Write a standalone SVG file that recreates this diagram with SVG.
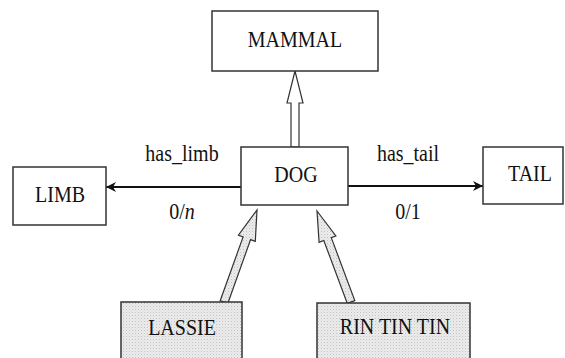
<svg xmlns="http://www.w3.org/2000/svg" width="565" height="358" viewBox="0 0 565 358">
<defs>
<pattern id="stip" width="3" height="3" patternUnits="userSpaceOnUse">
<rect width="3" height="3" fill="#ececec"/>
<rect x="0" y="0" width="1" height="1" fill="#c0c0c0"/>
<rect x="1.5" y="1.5" width="1" height="1" fill="#d6d6d6"/>
</pattern>
<marker id="arr" viewBox="0 0 10 10" refX="10" refY="5" markerWidth="10" markerHeight="10" markerUnits="userSpaceOnUse" orient="auto">
<path d="M0,0 L10,5 L0,10 L3,5 Z" fill="#111"/>
</marker>
</defs>
<style>
.box{fill:#fff;stroke:#333;stroke-width:1.5}
.inst{fill:url(#stip);stroke:#333;stroke-width:1.5}
text{font-family:'Liberation Serif','Times New Roman','DejaVu Serif',serif;font-size:20px;fill:#111;text-anchor:middle}
.rel{stroke:#111;stroke-width:2;fill:none}
.gen{fill:#fff;stroke:#333;stroke-width:1.2;stroke-linejoin:miter}
.ins{fill:url(#stip);stroke:#333;stroke-width:1.2}
</style>
<g id="connectors">
<line class="rel" x1="241" y1="187" x2="106" y2="187" marker-end="url(#arr)"/>
<line class="rel" x1="348" y1="186" x2="483" y2="186" marker-end="url(#arr)"/>
<polygon class="gen" points="295,71 303,103 299,103 299,147 291,147 291,103 287,103"/>
<polygon class="ins" points="257,210 255.3,241.3 250.6,239.6 227.8,303.4 220.2,300.7 243.1,236.9 238.4,235.2"/>
<polygon class="ins" points="317,211 335.9,236 331.3,237.7 354.8,300.6 347.3,303.4 323.8,240.5 319.1,242.3"/>
<text font-family="Liberation Serif, serif" transform="translate(182,161) scale(1,1.2)">has_limb</text>
<text font-family="Liberation Serif, serif" transform="translate(182,219) scale(1,1.2)">0/<tspan font-style="italic">n</tspan></text>
<text font-family="Liberation Serif, serif" transform="translate(408,161) scale(1,1.2)">has_tail</text>
<text font-family="Liberation Serif, serif" transform="translate(408,219) scale(1,1.2)">0/1</text>
</g>
<g id="mammal">
<rect class="box" x="212" y="11" width="166" height="60"/>
<text font-family="Liberation Serif, serif" transform="translate(295,47) scale(1,1.2)">MAMMAL</text>
</g>
<g id="dog">
<rect class="box" x="241" y="147" width="107" height="58"/>
<text font-family="Liberation Serif, serif" transform="translate(296,182) scale(1,1.2)">DOG</text>
</g>
<g id="limb">
<rect class="box" x="13" y="167" width="93" height="58"/>
<text font-family="Liberation Serif, serif" transform="translate(60,202) scale(1,1.2)">LIMB</text>
</g>
<g id="tail">
<rect class="box" x="483" y="147" width="80" height="57"/>
<text font-family="Liberation Serif, serif" transform="translate(530,181) scale(1,1.2)">TAIL</text>
</g>
<g id="lassie">
<rect class="inst" x="121" y="302" width="121" height="62"/>
<text font-family="Liberation Serif, serif" transform="translate(182,335) scale(1,1.2)">LASSIE</text>
</g>
<g id="rintintin">
<rect class="inst" x="317" y="303" width="153" height="62"/>
<text font-family="Liberation Serif, serif" transform="translate(395,334) scale(1,1.2)">RIN TIN TIN</text>
</g>
</svg>
